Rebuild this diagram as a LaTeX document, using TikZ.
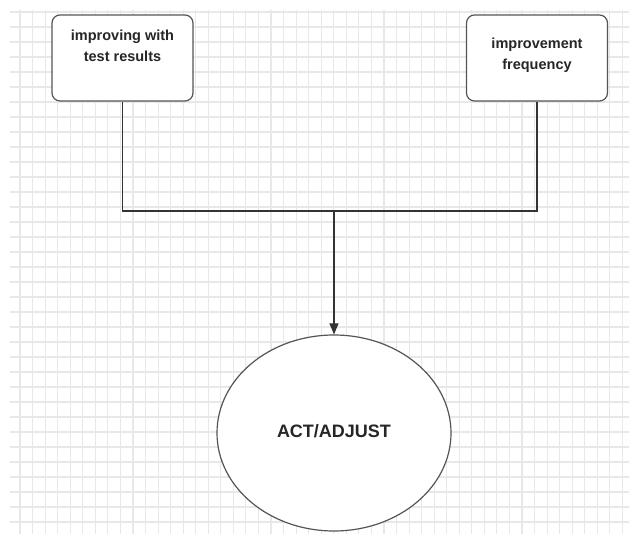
\documentclass[tikz,border=0pt]{standalone}
\usepackage{fontspec}
\setmainfont{Liberation Sans}
\usetikzlibrary{shapes.geometric,arrows.meta}
\definecolor{gridgray}{HTML}{E8E8E8}
\definecolor{edgegray}{HTML}{555555}
\definecolor{linegray}{HTML}{333333}
\tikzset{
  gridline/.style={draw=gridgray, line width=1.1pt},
  boxshape/.style={draw=edgegray, line width=1.2pt, rounded corners=8pt, fill=white, minimum width=141pt, minimum height=86pt, inner sep=0pt},
  boxtext/.style={font=\bfseries\fontsize{14.5}{20.5}\selectfont, align=center, inner sep=0pt, text=black!85},
  ovalshape/.style={ellipse, draw=edgegray, line width=1.2pt, fill=white, minimum width=234pt, minimum height=196pt, inner sep=0pt},
  ovaltext/.style={font=\bfseries\fontsize{18}{20}\selectfont, inner sep=0pt, text=black!85},
  connector/.style={draw=linegray, line width=1.2pt},
}
\begin{document}
\begin{tikzpicture}[x=1pt, y=-1pt]
\useasboundingbox (0,0) rectangle (629,534);
\fill[white] (0,0) rectangle (629,534);
% grid
\foreach \i in {0,...,48} \draw[gridline] ({20+12.55*\i},10) -- ({20+12.55*\i},534);
\foreach \j in {0,...,34} \draw[gridline] (10,{12+15*\j}) -- (629,{12+15*\j});
% boxes
\node[boxshape] (b1) at (122.5,58) {};
\node[boxtext] (t1) at (122.5,46) {improving with\\test results};
\node[boxshape] (b2) at (537,58) {};
\node[boxtext] (t2) at (537,55.5) {improvement\\frequency};
% ellipse
\node[ovalshape] (act) at (334,433) {};
\node[ovaltext] (actt) at (334,431) {ACT/ADJUST};
% connectors
\coordinate (j) at (334,211);
\draw[connector] (b1.south) |- (j) -| (b2.south);
\draw[connector, -{Triangle[length=11pt, width=9pt]}] (j) -- (act.north);
\end{tikzpicture}
\end{document}
